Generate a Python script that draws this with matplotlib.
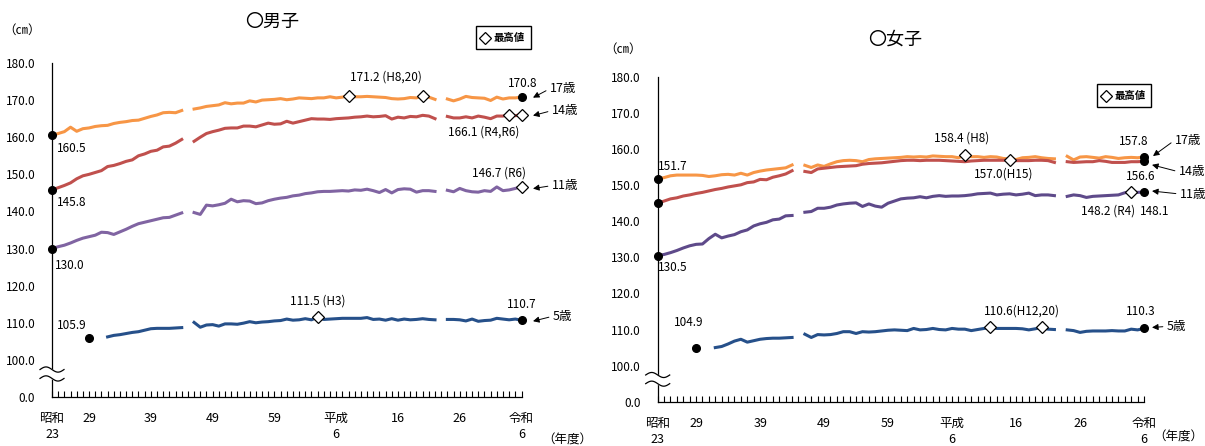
import numpy as np
import matplotlib
matplotlib.use("Agg")
import matplotlib.pyplot as plt
from matplotlib.transforms import offset_copy, blended_transform_factory
from matplotlib.patches import Rectangle
from matplotlib.lines import Line2D

plt.rcParams['font.family'] = ['Noto Sans CJK JP', 'DejaVu Sans']

nan = float('nan')
years = list(range(1948, 2025))

boys_17 = [160.5, 161.0,
           161.5, 162.7, 161.6, 162.3, 162.5, 162.9, 163.1, 163.2, 163.7, 164.0,
           164.2, 164.5, 164.6, 165.1, 165.6, 166.0, 166.6, 166.7, 166.6, 167.2,
           nan, 167.6, 167.9, 168.3, 168.5, 168.7, 169.3, 169.0, 169.2, 169.2,
           169.8, 169.5, 170.0, 170.1, 170.2, 170.4, 170.1, 170.3, 170.6, 170.5,
           170.4, 170.6, 170.6, 170.9, 170.6, 170.8, 171.2, 170.9, 170.9, 171.0,
           170.9, 170.8, 170.7, 170.4, 170.3, 170.4, 170.7, 170.6, 171.2, 170.8,
           170.2, nan, 170.3, 169.8, 170.3, 171.0, 170.7, 170.6, 170.5, 169.9,
           170.8, 170.3, 170.6, 170.6, 170.8]
boys_14 = [145.8, 146.4,
           147.0, 147.7, 148.8, 149.6, 150.0, 150.5, 151.0, 152.1, 152.4, 152.9,
           153.5, 153.9, 155.0, 155.5, 156.2, 156.5, 157.4, 157.6, 158.4, 159.4,
           nan, 158.9, 160.0, 161.0, 161.5, 161.9, 162.4, 162.5, 162.5, 163.0,
           163.0, 162.8, 163.3, 163.8, 163.5, 163.6, 164.3, 163.8, 164.2, 164.6,
           165.0, 164.9, 164.9, 164.8, 165.0, 165.1, 165.2, 165.4, 165.5, 165.7,
           165.5, 165.6, 165.8, 164.9, 165.4, 165.2, 165.6, 165.5, 165.9, 165.7,
           165.0, nan, 165.6, 165.2, 165.2, 165.5, 165.2, 165.7, 165.4, 165.0,
           165.7, 165.7, 166.1, 165.8, 166.1]
boys_11 = [130.0, 130.5,
           130.9, 131.5, 132.2, 132.8, 133.2, 133.6, 134.4, 134.3, 133.8, 134.5,
           135.2, 136.0, 136.7, 137.1, 137.5, 137.9, 138.3, 138.4, 139.0, 139.6,
           nan, 139.7, 139.2, 141.7, 141.5, 141.8, 142.2, 143.3, 142.6, 142.9,
           142.8, 142.1, 142.3, 142.9, 143.3, 143.6, 143.8, 144.2, 144.4, 144.8,
           145.0, 145.3, 145.4, 145.4, 145.5, 145.6, 145.5, 145.8, 145.7, 146.0,
           145.6, 145.1, 145.9, 145.0, 145.9, 146.1, 146.0, 145.2, 145.6, 145.6,
           145.4, nan, 145.7, 145.3, 146.2, 145.6, 145.3, 145.2, 145.6, 145.4,
           146.6, 145.6, 145.8, 146.2, 146.7]
boys_5 = [nan, nan,
          nan, nan, nan, nan, 105.9, nan, nan, 106.2, 106.6, 106.8,
          107.1, 107.4, 107.6, 108.0, 108.4, 108.5, 108.5, 108.5, 108.6, 108.7,
          nan, 110.1, 108.8, 109.4, 109.5, 109.1, 109.7, 109.7, 109.6, 109.9,
          110.3, 110.0, 110.2, 110.3, 110.5, 110.6, 111.0, 110.7, 110.8, 111.1,
          110.8, 111.5, 110.9, 111.0, 111.1, 111.2, 111.2, 111.2, 111.2, 111.4,
          110.9, 111.0, 110.7, 111.1, 110.7, 111.0, 110.8, 110.9, 111.1, 110.9,
          110.8, nan, 110.9, 110.9, 110.8, 110.5, 111.0, 110.4, 110.6, 110.7,
          111.2, 111.0, 110.8, 111.0, 110.7]

girls_17 = [151.7, 152.1,
            152.6, 152.8, 152.8, 152.8, 152.8, 152.7, 152.4, 152.6, 152.9, 153.0,
            152.8, 153.3, 152.8, 153.5, 153.9, 154.2, 154.4, 154.6, 154.8, 155.6,
            nan, 155.5, 154.9, 155.6, 155.2, 155.9, 156.5, 156.8, 156.9, 156.8,
            156.5, 157.1, 157.3, 157.4, 157.5, 157.6, 157.7, 157.9, 157.8, 157.9,
            157.8, 158.1, 158.0, 157.9, 157.9, 157.6, 158.4, 157.9, 157.9, 157.7,
            157.9, 157.8, 157.4, 157.3, 157.1, 157.6, 157.7, 157.9, 157.6, 157.4,
            157.3, nan, 158.0, 157.0, 157.8, 157.9, 157.7, 157.5, 157.9, 157.7,
            157.4, 157.6, 157.7, 157.6, 157.8]
girls_14 = [145.0, 145.6,
            146.2, 146.5, 147.0, 147.3, 147.7, 148.0, 148.4, 148.8, 149.1, 149.5,
            149.8, 150.1, 150.7, 150.9, 151.6, 151.5, 152.2, 152.6, 153.1, 154.0,
            nan, 153.8, 153.5, 154.5, 154.7, 154.9, 155.1, 155.2, 155.3, 155.4,
            155.8, 156.0, 156.1, 156.2, 156.4, 156.6, 156.8, 156.9, 156.9, 156.8,
            156.9, 156.9, 156.9, 156.8, 156.7, 156.6, 156.5, 156.7, 156.8, 156.9,
            156.9, 156.9, 156.9, 157.0, 156.8, 156.8, 156.8, 156.9, 156.9, 156.8,
            156.3, nan, 156.5, 156.3, 156.4, 156.5, 156.5, 156.8, 156.6, 156.3,
            156.3, 156.3, 156.5, 156.5, 156.6]
girls_11 = [130.5, 130.8,
            131.3, 131.9, 132.6, 133.2, 133.6, 133.7, 135.2, 136.4, 135.4, 135.9,
            136.3, 137.1, 137.6, 138.7, 139.3, 139.7, 140.4, 140.6, 141.5, 141.6,
            nan, 142.5, 142.7, 143.6, 143.6, 143.9, 144.5, 144.8, 145.0, 145.1,
            144.1, 144.8, 144.2, 143.9, 145.0, 145.6, 146.2, 146.4, 146.5, 146.8,
            146.5, 146.9, 147.1, 146.9, 147.0, 147.0, 147.1, 147.3, 147.6, 147.7,
            147.8, 147.3, 147.5, 147.6, 147.3, 147.5, 147.8, 147.1, 147.3, 147.3,
            147.1, nan, 146.9, 147.3, 147.1, 146.6, 146.9, 147.0, 147.1, 147.2,
            147.3, 147.9, 148.2, 148.0, 148.1]
girls_5 = [nan, nan,
           nan, nan, nan, nan, 104.9, nan, nan, 105.0, 105.3, 106.0,
           106.8, 107.3, 106.5, 106.9, 107.3, 107.5, 107.6, 107.6, 107.7, 107.8,
           nan, 108.7, 107.8, 108.6, 108.5, 108.6, 108.9, 109.4, 109.4, 108.9,
           109.4, 109.3, 109.4, 109.6, 109.8, 109.9, 109.8, 109.7, 110.3, 109.9,
           110.0, 110.3, 110.0, 109.9, 110.3, 110.1, 110.1, 109.7, 110.0, 110.3,
           110.6, 110.3, 110.3, 110.3, 110.3, 110.2, 109.9, 110.2, 110.6, 110.1,
           110.0, nan, 109.9, 109.7, 109.2, 109.5, 109.6, 109.6, 109.6, 109.7,
           109.6, 109.6, 110.1, 109.9, 110.3]

xtick_years = [1948, 1954, 1964, 1974, 1984, 1994, 2004, 2014, 2024]
xtick_labels = ['昭和\n23', '29', '39', '49', '59', '平成\n6', '16', '26', '令和\n6']
ytick_values = [90, 100, 110, 120, 130, 140, 150, 160, 170, 180]
ytick_labels = ['0.0', '100.0', '110.0', '120.0', '130.0', '140.0', '150.0', '160.0', '170.0', '180.0']

C_OR = '#F79646'
C_RD = '#C0504D'
C_PU_B = '#8064A2'
C_PU_G = '#5E4A8A'
C_BL = '#26508A'

W, H = 1205, 446
fig = plt.figure(figsize=(W / 100, H / 100), dpi=100)


def rect(l, r, t, b):
    return [l / W, 1 - b / H, (r - l) / W, (b - t) / H]


ax_b = fig.add_axes(rect(52, 521.5, 63, 397))
ax_g = fig.add_axes(rect(657.7, 1144, 76.9, 401.7))


def style(ax):
    ax.set_xlim(1948, 2024)
    ax.set_ylim(90, 180)
    ax.patch.set_alpha(0)
    for s in ['top', 'right']:
        ax.spines[s].set_visible(False)
    for s in ['left', 'bottom']:
        ax.spines[s].set_linewidth(0.9)
    ax.set_xticks(years, minor=True)
    ax.set_xticks(xtick_years)
    ax.set_xticklabels(xtick_labels, fontsize=9, linespacing=1.3)
    ax.tick_params(axis='x', which='both', direction='in', length=4, width=0.8, pad=11)
    ax.set_yticks(ytick_values)
    ax.set_yticklabels(ytick_labels, fontsize=8.5)
    ax.tick_params(axis='y', length=0, pad=12)
    # axis break symbol
    axw = ax.get_position().width * W
    tr = blended_transform_factory(ax.transAxes, ax.transData)
    t = np.linspace(0, 1, 60)
    xs = (-12 + 24 * t) / axw
    y1 = 95.0 + 0.7 * np.sin(2 * np.pi * t)
    y2 = 97.4 + 0.7 * np.sin(2 * np.pi * t)
    ax.fill_between(xs, y1, y2, color='white', transform=tr, zorder=5, clip_on=False)
    ax.plot(xs, y1, color='black', lw=0.9, transform=tr, zorder=6, clip_on=False)
    ax.plot(xs, y2, color='black', lw=0.9, transform=tr, zorder=6, clip_on=False)


def val(series, yr):
    return series[years.index(yr)]


def dots(ax, series, yrs):
    ax.plot(yrs, [val(series, y) for y in yrs], 'o', color='black', ms=5.5,
            zorder=8, clip_on=False)


def diamonds(ax, series, yrs):
    ax.plot(yrs, [val(series, y) for y in yrs], 'D', mfc='white', mec='black',
            mew=0.9, ms=6.5, zorder=9, clip_on=False)


def note(ax, text, yr, v, dx, dy, ha='center'):
    ax.annotate(text, xy=(yr, v), xytext=(dx, dy), textcoords='offset pixels',
                ha=ha, va='center', fontsize=8.5, annotation_clip=False, zorder=10)


def age(ax, text, yr, v, tdx, tdy, dx, dy):
    tr = offset_copy(ax.transData, fig=fig, x=tdx, y=tdy, units='dots')
    ax.annotate(text, xy=(yr, v), xycoords=tr, xytext=(dx, dy), textcoords='offset pixels',
                ha='left', va='center', fontsize=9, annotation_clip=False,
                arrowprops=dict(arrowstyle='-|>', color='black', lw=0.7,
                                mutation_scale=9, shrinkA=1, shrinkB=0,
                                relpos=(0, 0.5)))


lw = 2.2

# ---------------- boys ----------------
style(ax_b)
ax_b.plot(years, boys_17, color=C_OR, lw=lw, zorder=3)
ax_b.plot(years, boys_14, color=C_RD, lw=lw, zorder=3)
ax_b.plot(years, boys_11, color=C_PU_B, lw=lw, zorder=3)
ax_b.plot(years, boys_5, color=C_BL, lw=lw, zorder=3)
dots(ax_b, boys_17, [1948, 2024])
dots(ax_b, boys_14, [1948])
dots(ax_b, boys_11, [1948])
dots(ax_b, boys_5, [1954, 2024])
diamonds(ax_b, boys_17, [1996, 2008])
diamonds(ax_b, boys_14, [2022, 2024])
diamonds(ax_b, boys_11, [2024])
diamonds(ax_b, boys_5, [1991])

note(ax_b, '160.5', 1948, val(boys_17, 1948), 5, -13, ha='left')
note(ax_b, '145.8', 1948, val(boys_14, 1948), 5, -13, ha='left')
note(ax_b, '130.0', 1948, val(boys_11, 1948), 3, -17, ha='left')
note(ax_b, '105.9', 1954, val(boys_5, 1954), -17, 12)
note(ax_b, '111.5 (H3)', 1991, val(boys_5, 1991), 0, 16)
note(ax_b, '110.7', 2024, val(boys_5, 2024), 0, 16)
note(ax_b, '170.8', 2024, val(boys_17, 2024), 1, 14)
note(ax_b, '171.2 (H8,20)', 2002, val(boys_17, 1996), 0, 19)
note(ax_b, '166.1 (R4,R6)', 2024, val(boys_14, 2024), -38, -17)
note(ax_b, '146.7 (R6)', 2024, val(boys_11, 2024), -23, 14)

age(ax_b, '17歳', 2024, val(boys_17, 2024), 11.5, -0.5, 17, 9)
age(ax_b, '14歳', 2024, val(boys_14, 2024), 11.5, -1, 19, 5)
age(ax_b, '11歳', 2024, val(boys_11, 2024), 11.5, -2, 19, 3)
age(ax_b, '5歳', 2024, val(boys_5, 2024), 11.5, -1, 20, 5)

# ---------------- girls ----------------
style(ax_g)
ax_g.plot(years, girls_17, color=C_OR, lw=lw, zorder=3)
ax_g.plot(years, girls_14, color=C_RD, lw=lw, zorder=3)
ax_g.plot(years, girls_11, color=C_PU_G, lw=lw, zorder=3)
ax_g.plot(years, girls_5, color=C_BL, lw=lw, zorder=3)
dots(ax_g, girls_17, [1948, 2024])
dots(ax_g, girls_14, [1948, 2024])
dots(ax_g, girls_11, [1948, 2024])
dots(ax_g, girls_5, [1954, 2024])
diamonds(ax_g, girls_17, [1996])
diamonds(ax_g, girls_14, [2003])
diamonds(ax_g, girls_11, [2022])
diamonds(ax_g, girls_5, [2000, 2008])

note(ax_g, '151.7', 1948, val(girls_17, 1948), 0, 13, ha='left')
note(ax_g, '130.5', 1948, val(girls_11, 1948), 0, -12, ha='left')
note(ax_g, '104.9', 1954, val(girls_5, 1954), -7, 25)
note(ax_g, '158.4 (H8)', 1996, val(girls_17, 1996), -3, 17)
note(ax_g, '157.0(H15)', 2003, val(girls_14, 2003), -6, -14)
note(ax_g, '157.8', 2024, val(girls_17, 2024), -10, 16)
note(ax_g, '156.6', 2024, val(girls_14, 2024), -3, -15)
note(ax_g, '148.2 (R4)', 2022, val(girls_11, 2022), -23, -19)
note(ax_g, '148.1', 2024, val(girls_11, 2024), 11, -19)
note(ax_g, '110.6(H12,20)', 2004, val(girls_5, 2000), 6, 16)
note(ax_g, '110.3', 2024, val(girls_5, 2024), -3, 17)

age(ax_g, '17歳', 2024, val(girls_17, 2024), 9, 1, 22, 16)
age(ax_g, '14歳', 2024, val(girls_14, 2024), 8, -3.5, 27, -7)
age(ax_g, '11歳', 2024, val(girls_11, 2024), 8, 1, 28, -3)
age(ax_g, '5歳', 2024, val(girls_5, 2024), 8, 1, 15, 1)

# ---------------- titles, units, legends ----------------
def ftext(x, y, s, **kw):
    fig.text(x / W, 1 - y / H, s, **kw)


ftext(272, 22, '〇男子', ha='center', va='center', fontsize=13)
ftext(895, 40, '〇女子', ha='center', va='center', fontsize=13)
ftext(22, 30, '（㎝）', ha='center', va='center', fontsize=9)
ftext(623, 49, '（㎝）', ha='center', va='center', fontsize=9)
ftext(542, 440, '（年度）', ha='left', va='center', fontsize=9)
ftext(1153, 437, '（年度）', ha='left', va='center', fontsize=9)


def legend_box(l, t, r, b):
    fig.add_artist(Rectangle((l / W, 1 - b / H), (r - l) / W, (b - t) / H,
                             transform=fig.transFigure, fill=False,
                             edgecolor='black', lw=1.0))
    cy = (t + b) / 2
    fig.add_artist(Line2D([(l + 9) / W], [1 - cy / H], marker='D', mfc='white',
                          mec='black', mew=0.9, ms=6, transform=fig.transFigure))
    ftext(l + 18, cy, '最高値', ha='left', va='center', fontsize=7.5, fontweight='bold')


legend_box(476, 26, 531, 49)
legend_box(1097, 84, 1151, 107)

fig.savefig('out.png', dpi=100)
